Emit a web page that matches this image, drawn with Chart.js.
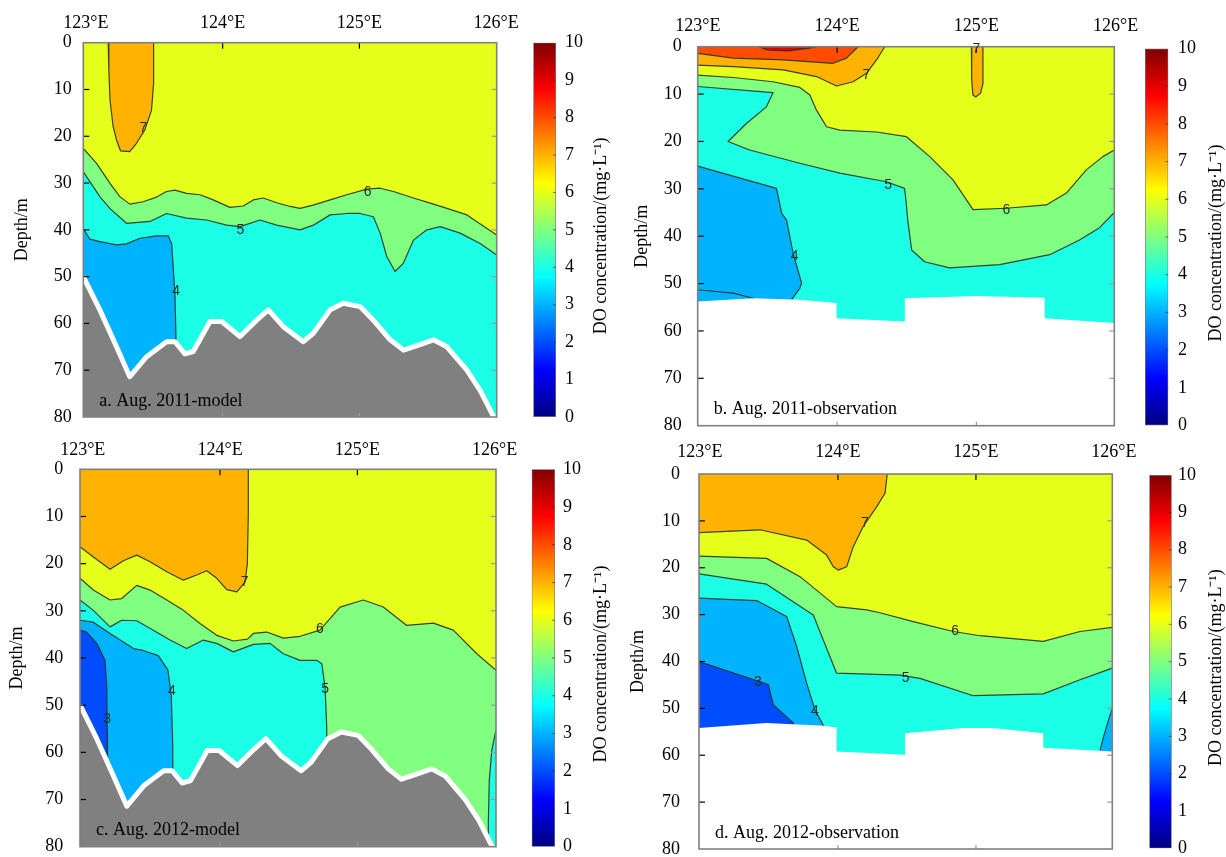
<!DOCTYPE html>
<html><head><meta charset="utf-8">
<script src="https://cdn.jsdelivr.net/npm/chart.js@4.4.1/dist/chart.umd.min.js"></script>
<style>
html,body{margin:0;padding:0;background:#fff;overflow:hidden;width:1226px;height:857px;position:relative;}
canvas{position:absolute;display:block;}
</style></head><body>
<script>
// ---------------- DATA ----------------
const lonTicks = [123, 124, 125, 126];
const depthTicks = [0, 10, 20, 30, 40, 50, 60, 70, 80];
const cbarTicks = [0, 1, 2, 3, 4, 5, 6, 7, 8, 9, 10];
const cbarTitle = 'DO concentration/(mg\u00B7L\u207B\u00B9)';
const surface = [[122.9, 0], [126.1, 0]];

// model bathymetry (shared by a and c)
const modelSeabed = [[122.981,50.0],[123.102,57.1],[123.224,65.0],[123.321,71.4],[123.444,67.1],[123.59,63.9],[123.651,63.9],[123.724,66.5],[123.785,66.0],[123.907,59.6],[123.993,59.6],[124.127,62.8],[124.249,59.3],[124.334,57.1],[124.444,60.7],[124.59,63.9],[124.663,62.1],[124.786,57.1],[124.883,55.7],[125.005,56.4],[125.102,59.3],[125.225,63.5],[125.322,65.7],[125.395,65.0],[125.542,63.5],[125.64,65.0],[125.786,70.0],[125.883,74.3],[125.981,79.9],[126.01,81]];

// a. Aug. 2011-model
const aBlob7 = [[123.163,0],[123.168,6],[123.176,12.2],[123.199,17.9],[123.224,20.8],[123.253,23.1],[123.32,23.3],[123.37,21.5],[123.43,18.7],[123.48,14.4],[123.495,8.7],[123.495,0]];
const aLine6 = [[122.981,22.6],[123.078,25.8],[123.175,30.0],[123.248,32.9],[123.321,34.5],[123.419,34.0],[123.517,33.0],[123.59,31.8],[123.651,31.5],[123.736,32.2],[123.834,32.5],[123.931,33.6],[124.053,35.2],[124.151,34.9],[124.224,33.6],[124.297,33.2],[124.395,34.2],[124.493,35.0],[124.566,35.4],[124.661,34.7],[124.786,33.6],[124.908,32.5],[125.054,31.3],[125.152,31.1],[125.249,31.8],[125.395,33.2],[125.518,34.3],[125.64,35.4],[125.786,36.8],[125.933,39.7],[126.004,41.1]];
const aLine5 = [[122.981,27.6],[123.029,29.7],[123.102,32.9],[123.175,35.4],[123.297,38.6],[123.468,38.2],[123.59,36.5],[123.736,37.5],[123.883,37.9],[124.029,39.0],[124.127,39.3],[124.273,37.9],[124.395,39.0],[124.566,40.0],[124.663,39.0],[124.786,36.8],[124.908,36.5],[125.005,36.5],[125.102,37.2],[125.152,40.7],[125.2,45.7],[125.261,48.9],[125.322,47.1],[125.395,42.2],[125.493,40.0],[125.591,39.3],[125.737,40.7],[125.883,42.9],[126.004,45.4]];
const aLine4 = [[122.981,39.7],[123.029,42.0],[123.102,42.5],[123.224,43.2],[123.297,43.0],[123.395,41.8],[123.517,41.3],[123.602,41.3],[123.627,42.9],[123.638,47.9],[123.651,53.5],[123.658,62.1],[123.66,80]];
const aLabels = [[123.42,18.2,'7'],[125.06,32,'6'],[124.13,40,'5'],[123.66,53,'4']];

// b. Aug. 2011-observation
const bLine9 = [[123.44,0],[123.5,0.7],[123.65,0.9],[123.8,0.3],[123.85,0]];
const bLine8 = [[122.999,1.4],[123.254,2.4],[123.613,2.8],[123.971,3.5],[124.067,2.4],[124.151,0]];
const bLine7 = [[122.999,3.9],[123.254,4.2],[123.613,4.9],[123.852,6.3],[123.996,8.3],[124.115,7.4],[124.211,5.6],[124.283,2.8],[124.342,0]];
const bFinger7 = [[124.964,0],[124.966,7],[124.975,10.2],[124.995,10.6],[125.03,9.8],[125.045,8],[125.047,0]];
const bLine6 = [[122.999,6.0],[123.254,6.5],[123.54,7.4],[123.732,8.6],[123.804,10.2],[123.852,13.4],[123.924,16.9],[124.019,17.6],[124.283,18.0],[124.498,19.0],[124.665,23.2],[124.832,28.1],[124.976,34.4],[125.215,34.1],[125.502,33.4],[125.646,30.9],[125.789,26.0],[125.908,23.2],[125.99,21.8]];
const bLine5 = [[122.999,8.4],[123.54,9.7],[123.492,12.7],[123.349,16.2],[123.217,20.0],[123.372,21.8],[123.732,24.6],[124.019,26.7],[124.354,28.5],[124.484,29.9],[124.494,32.3],[124.507,36.6],[124.535,42.9],[124.628,45.4],[124.808,46.7],[125.167,46.0],[125.526,43.9],[125.74,40.8],[125.884,38.2],[125.99,35.0]];
const bLine4 = [[122.999,25.2],[123.565,29.9],[123.601,35.1],[123.637,36.6],[123.684,43.6],[123.745,49.9],[123.732,51.0],[123.673,53.4],[123.75,60]];
const bLine3 = [[122.999,51.3],[123.254,52.0],[123.41,53.2]];
const bMask = [[122.999,53.8],[123.4,53.1],[123.73,53.4],[123.996,54.1],[123.996,57.3],[124.486,58.0],[124.486,53.1],[125.0,52.6],[125.49,53.0],[125.49,57.3],[125.99,58.3]];
const bLabels = [[124.21,5.9,'7'],[125.0,0.6,'7'],[124.367,29.3,'5'],[125.215,34.4,'6'],[123.695,44.3,'4']];

// c. Aug. 2012-model
const cRegion7 = [[122.98,16.4],[123.077,18.6],[123.199,21.2],[123.296,19.4],[123.393,18.2],[123.49,19.6],[123.612,21.7],[123.733,23.5],[123.83,22.4],[123.903,21.5],[123.976,23.1],[124.049,25.5],[124.122,26.0],[124.182,23.9],[124.199,20.0],[124.206,9.3],[124.206,0]];
const cLine6 = [[122.98,23.1],[123.077,25.6],[123.199,27.7],[123.284,27.4],[123.393,24.6],[123.49,25.6],[123.612,27.7],[123.733,29.9],[123.854,32.7],[123.976,35.2],[124.097,36.4],[124.2,36.0],[124.243,34.8],[124.34,34.5],[124.461,35.8],[124.583,35.4],[124.728,34.1],[124.874,29.2],[125.044,27.7],[125.189,29.2],[125.36,33.1],[125.554,32.6],[125.699,34.1],[125.87,39.1],[126.01,42.6]];
const cLine5 = [[122.98,27.7],[123.077,29.9],[123.199,33.4],[123.284,32.0],[123.393,32.1],[123.514,34.1],[123.636,36.2],[123.757,38.0],[123.878,36.2],[123.976,36.9],[124.097,38.7],[124.243,37.1],[124.364,36.9],[124.461,39.1],[124.583,40.5],[124.704,40.5],[124.741,41.2],[124.765,46.2],[124.777,54.6],[124.78,80]];
const cLine4 = [[122.98,32.0],[123.077,32.4],[123.199,34.8],[123.37,38.0],[123.44,38.4],[123.55,39.5],[123.62,42.5],[123.645,48],[123.655,58],[123.66,80]];
const cLine3 = [[122.98,34.1],[123.029,34.5],[123.102,36.9],[123.162,40.5],[123.175,46],[123.178,55],[123.18,80]];
const cSliver4 = [[125.954,80],[125.954,75.2],[125.961,66.0],[125.979,59.6],[126.01,55.3]];
const cLabels = [[124.18,23.9,'7'],[124.728,33.8,'6'],[124.765,46.5,'5'],[123.65,47,'4'],[123.177,52.9,'3']];

// d. Aug. 2012-observation
const dRegion7 = [[122.993,12.5],[123.435,11.9],[123.773,14.1],[123.918,17.3],[123.966,19.8],[124.002,20.5],[124.063,19.8],[124.111,15.5],[124.183,11.2],[124.28,7.0],[124.341,4.1],[124.357,0]];
const dLine6 = [[122.993,17.5],[123.483,18.0],[123.725,21.9],[123.99,28.3],[124.208,29.0],[124.304,29.6],[124.546,31.5],[124.836,33.6],[125.029,34.5],[125.488,35.7],[125.754,33.6],[125.988,32.7]];
const dLine5 = [[122.993,21.3],[123.483,23.5],[123.821,30.1],[123.99,42.5],[124.45,42.9],[124.594,43.6],[124.98,47.3],[125.488,46.9],[125.754,43.9],[125.988,41.4]];
const dLine4 = [[122.993,26.5],[123.411,27.0],[123.628,30.4],[123.701,36.8],[123.773,44.6],[123.833,50.3],[123.899,53.9],[123.95,60]];
const dLine3 = [[122.993,40.0],[123.495,44.9],[123.531,49.2],[123.676,53.1],[123.7,60]];
const dSliver3 = [[125.899,58.9],[125.93,55.5],[125.96,52.5],[125.988,50.0]];
const dMask = [[122.993,54.2],[123.48,53.1],[123.9,53.7],[123.99,54.1],[123.99,59.2],[124.486,59.9],[124.486,55.3],[124.908,54.2],[125.125,54.2],[125.488,55.3],[125.488,58.4],[125.988,59.2]];
const dLabels = [[124.196,10.5,'7'],[124.85,33.6,'6'],[124.49,43.6,'5'],[123.833,50.5,'4'],[123.42,44.5,'3']];

// ---------------- STYLE ----------------
const SERIF = '"Liberation Serif","Times New Roman",serif';
const SANS = '"Liberation Sans",Arial,sans-serif';
const LINE = 'rgba(35,50,35,0.9)';
function jet(v) {
  const c = t => Math.max(0, Math.min(1, t));
  const r = c(1.5 - Math.abs(4 * v - 3)), g = c(1.5 - Math.abs(4 * v - 2)), b = c(1.5 - Math.abs(4 * v - 1));
  return `rgb(${Math.round(r * 255)},${Math.round(g * 255)},${Math.round(b * 255)})`;
}
const C = lv => jet(lv / 10);
const GRAY = '#808080';

function addCanvas(left, top, w, h) {
  const cv = document.createElement('canvas');
  cv.width = w; cv.height = h;
  cv.style.left = left + 'px'; cv.style.top = top + 'px';
  cv.style.width = w + 'px'; cv.style.height = h + 'px';
  document.body.appendChild(cv);
  return cv;
}

function panel(p) {
  const cv = addCanvas(p.left, p.top, p.width, p.height);
  const n = p.layers.length;
  const datasets = p.layers.map((ly, i) => ({
    data: ly.pts.map(q => ({x: q[0], y: q[1]})),
    backgroundColor: ly.color || 'transparent',
    borderColor: ly.stroke || (ly.line === false ? 'transparent' : LINE),
    borderWidth: ly.width !== undefined ? ly.width : (ly.line === false ? 0 : 1.2),
    fill: ly.fill || false,
    pointRadius: 0, pointHoverRadius: 0, tension: 0, clip: 0,
    borderJoinStyle: 'round',
    order: n - i
  }));
  const deco = {
    id: 'panelDeco',
    afterDatasetsDraw(chart) {
      const {ctx, chartArea: a, scales: {x, y}} = chart;
      const seg = (x1, y1, x2, y2) => { ctx.beginPath(); ctx.moveTo(x1, y1); ctx.lineTo(x2, y2); ctx.stroke(); };
      ctx.save();
      ctx.lineWidth = 1.2;
      for (const v of lonTicks) {
        if (v <= x.min + 0.02 || v >= x.max - 0.02) continue;
        const px = x.getPixelForValue(v);
        ctx.strokeStyle = '#000'; seg(px, a.top, px, a.top + 6);
        ctx.strokeStyle = '#999'; seg(px, a.bottom, px, a.bottom - 4);
      }
      for (const v of depthTicks) {
        if (v === y.min || v === y.max) continue;
        const py = y.getPixelForValue(v);
        ctx.strokeStyle = '#000'; seg(a.left, py, a.left + 6, py);
        ctx.strokeStyle = '#999'; seg(a.right, py, a.right - 5, py);
      }
      ctx.strokeStyle = '#808080'; ctx.lineWidth = 1.6;
      ctx.strokeRect(a.left, a.top, a.right - a.left, a.bottom - a.top);
      ctx.font = '14px ' + SANS; ctx.fillStyle = '#26302a';
      ctx.textAlign = 'center'; ctx.textBaseline = 'middle';
      for (const [lx, ly, t] of p.labels) ctx.fillText(t, x.getPixelForValue(lx), y.getPixelForValue(ly));
      ctx.font = '18px ' + SERIF; ctx.fillStyle = '#000';
      ctx.textAlign = 'left'; ctx.textBaseline = 'alphabetic';
      ctx.fillText(p.name, a.left + 16, a.bottom - 11.5);
      ctx.restore();
    }
  };
  new Chart(cv, {
    type: 'line',
    data: {datasets},
    options: {
      responsive: false, animation: false, events: [],
      layout: {autoPadding: false, padding: {left: 0, top: 0, right: p.width - (p.R - p.left), bottom: p.height - (p.B - p.top)}},
      plugins: {legend: {display: false}, tooltip: {enabled: false}},
      scales: {
        x: {
          type: 'linear', position: 'top', min: p.xMin, max: p.xMax,
          afterBuildTicks: s => { s.ticks = lonTicks.map(v => ({value: v})); },
          afterFit: s => { s.height = p.T - p.top; s.paddingLeft = 0; s.paddingRight = 0; },
          ticks: {font: {family: SERIF, size: 18}, color: '#000', padding: p.xPad, maxRotation: 0, autoSkip: false, callback: v => v + '\u00B0E'},
          grid: {display: false, drawTicks: false}, border: {display: false}
        },
        y: {
          type: 'linear', position: 'left', reverse: true, min: 0, max: 80,
          afterBuildTicks: s => { s.ticks = depthTicks.map(v => ({value: v})); },
          afterFit: s => { s.width = p.L - p.left; s.paddingTop = 0; s.paddingBottom = 0; },
          ticks: {font: {family: SERIF, size: 18}, color: '#000', padding: p.yPad, autoSkip: false},
          grid: {display: false, drawTicks: false}, border: {display: false},
          title: {display: true, text: 'Depth/m', color: '#000', font: {family: SERIF, size: 18}, padding: {top: p.tPad, bottom: 0}}
        }
      }
    },
    plugins: [deco]
  });
}

function colorbar(b) {
  const cv = addCanvas(b.left, b.top, b.width, b.height);
  const deco = {
    id: 'cbarDeco',
    afterDatasetsDraw(chart) {
      const {ctx, chartArea: a, scales: {y}} = chart;
      ctx.save();
      ctx.strokeStyle = 'rgba(40,40,40,0.6)'; ctx.lineWidth = 1;
      for (const v of cbarTicks) {
        if (v === 0 || v === 10) continue;
        const py = y.getPixelForValue(v);
        ctx.beginPath(); ctx.moveTo(a.right - 3, py); ctx.lineTo(a.right, py); ctx.stroke();
      }
      ctx.translate(b.titleX - b.left, (a.top + a.bottom) / 2 + 6);
      ctx.rotate(-Math.PI / 2);
      ctx.font = '18px ' + SERIF; ctx.fillStyle = '#000';
      ctx.textAlign = 'center'; ctx.textBaseline = 'middle';
      ctx.fillText(cbarTitle, 0, 0);
      ctx.restore();
    }
  };
  new Chart(cv, {
    type: 'bar',
    data: {labels: [''], datasets: [{
      data: [cbarTicks[cbarTicks.length - 1]],
      backgroundColor: c => {
        const ch = c.chart, a = ch.chartArea;
        if (!a) return 'blue';
        const g = ch.ctx.createLinearGradient(0, a.bottom, 0, a.top);
        for (let i = 0; i <= 64; i++) g.addColorStop(i / 64, jet(i / 64));
        return g;
      },
      borderColor: '#7a7a7a', borderWidth: 1, borderSkipped: false,
      barPercentage: 1, categoryPercentage: 1
    }]},
    options: {
      responsive: false, animation: false, events: [],
      layout: {autoPadding: false, padding: {left: b.L - b.left, right: 0, top: b.T - b.top, bottom: b.height - (b.B - b.top)}},
      plugins: {legend: {display: false}, tooltip: {enabled: false}},
      scales: {
        x: {display: false},
        y: {
          position: 'right', min: 0, max: 10,
          afterBuildTicks: s => { s.ticks = cbarTicks.map(v => ({value: v})); },
          afterFit: s => { s.width = b.width - (b.R - b.left); s.paddingTop = 0; s.paddingBottom = 0; },
          ticks: {font: {family: SERIF, size: 18}, color: '#000', padding: b.pad, autoSkip: false},
          grid: {display: false, drawTicks: false}, border: {display: false}
        }
      }
    },
    plugins: [deco]
  });
}

// ---------------- BUILD ----------------
panel({left: 0, top: 0, width: 525, height: 440, L: 83.3, T: 42.7, R: 496.7, B: 417,
  xMin: 122.981, xMax: 126.004, yPad: 11.6, xPad: 8.6, tPad: 11.4, name: 'a. Aug. 2011-model', labels: aLabels,
  layers: [
    {pts: surface, color: C(6), fill: 'start', line: false},
    {pts: aLine6, color: C(5), fill: 'start'},
    {pts: aLine5, color: C(4), fill: 'start'},
    {pts: aLine4, color: C(3), fill: 'start'},
    {pts: aBlob7, color: C(7), fill: 'end'},
    {pts: modelSeabed, color: GRAY, fill: 'start', stroke: '#ffffff', width: 5}
  ]});
panel({left: 615, top: 0, width: 527, height: 440, L: 697.7, T: 46.7, R: 1114.3, B: 425.7,
  xMin: 122.999, xMax: 125.99, yPad: 16, xPad: 9.2, tPad: 16.7, name: 'b. Aug. 2011-observation', labels: bLabels,
  layers: [
    {pts: surface, color: C(6), fill: 'start', line: false},
    {pts: bLine6, color: C(5), fill: 'start'},
    {pts: bLine5, color: C(4), fill: 'start'},
    {pts: bLine4, color: C(3), fill: 'start'},
    {pts: bLine3},
    {pts: bLine7, color: C(7), fill: 'end'},
    {pts: bLine8, color: C(8), fill: 'end'},
    {pts: bLine9, color: C(9), fill: 'end'},
    {pts: bFinger7, color: C(7), fill: 'end'},
    {pts: bMask, color: '#ffffff', fill: 'start', line: false}
  ]});
panel({left: 0, top: 430, width: 525, height: 440, L: 80, T: 469.3, R: 496, B: 846.7,
  xMin: 122.98, xMax: 126.01, yPad: 16.7, xPad: 8.5, tPad: 6.7, name: 'c. Aug. 2012-model', labels: cLabels,
  layers: [
    {pts: surface, color: C(6), fill: 'start', line: false},
    {pts: cRegion7, color: C(7), fill: 'end'},
    {pts: cLine6, color: C(5), fill: 'start'},
    {pts: cLine5, color: C(4), fill: 'start'},
    {pts: cLine4, color: C(3), fill: 'start'},
    {pts: cLine3, color: C(2), fill: 'start'},
    {pts: cSliver4, color: C(4), fill: 'start'},
    {pts: modelSeabed, color: GRAY, fill: 'start', stroke: '#ffffff', width: 5}
  ]});
panel({left: 615, top: 430, width: 527, height: 440, L: 699, T: 474, R: 1112.3, B: 849,
  xMin: 122.993, xMax: 125.988, yPad: 19, xPad: 10.7, tPad: 12.5, name: 'd. Aug. 2012-observation', labels: dLabels,
  layers: [
    {pts: surface, color: C(6), fill: 'start', line: false},
    {pts: dLine6, color: C(5), fill: 'start'},
    {pts: dLine5, color: C(4), fill: 'start'},
    {pts: dLine4, color: C(3), fill: 'start'},
    {pts: dLine3, color: C(2), fill: 'start'},
    {pts: dRegion7, color: C(7), fill: 'end'},
    {pts: dSliver3, color: C(3), fill: 'start'},
    {pts: dMask, color: '#ffffff', fill: 'start', line: false}
  ]});

colorbar({left: 520, top: 0, width: 100, height: 440, L: 533.3, R: 556, T: 42.7, B: 417, pad: 9, titleX: 601.7});
colorbar({left: 1130, top: 0, width: 96, height: 440, L: 1145, R: 1168.3, T: 48.5, B: 425.5, pad: 9.7, titleX: 1216.7});
colorbar({left: 520, top: 430, width: 100, height: 440, L: 531.7, R: 555, T: 469.3, B: 846.7, pad: 8, titleX: 601});
colorbar({left: 1130, top: 430, width: 96, height: 440, L: 1149.3, R: 1171.7, T: 475, B: 848.3, pad: 6.3, titleX: 1216.7});
</script>
</body></html>
